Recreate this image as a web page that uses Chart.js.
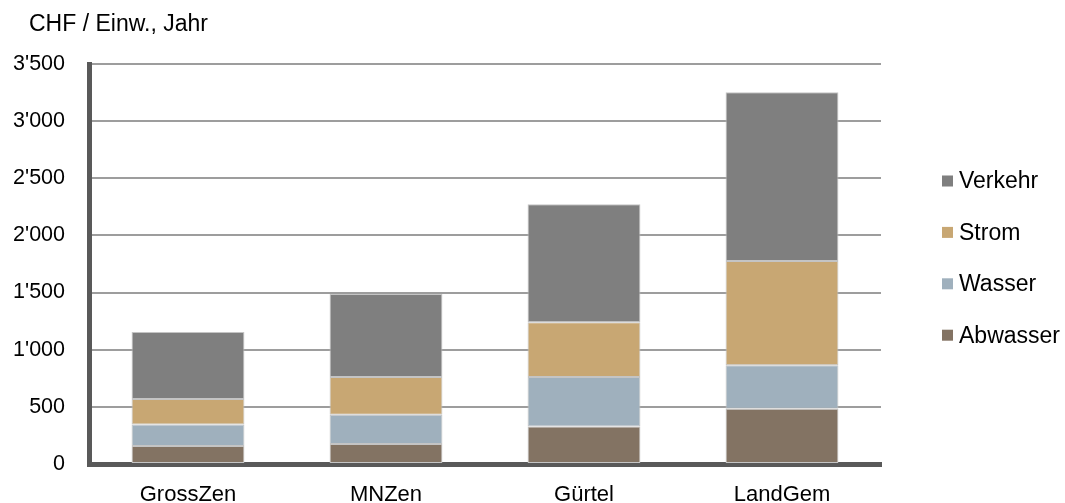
<!DOCTYPE html>
<html>
<head>
<meta charset="utf-8">
<script src="https://cdn.jsdelivr.net/npm/chart.js@4/dist/chart.umd.min.js"></script>
<style>
  html, body { margin: 0; padding: 0; background: #fff; }
  #container { display: block; }
</style>
</head>
<body>
<canvas id="container" width="1065" height="503"></canvas>
<script>
// data
var categories = ["GrossZen", "MNZen", "Gürtel", "LandGem"];
var abwasser = [157, 175, 328, 484];
var wasser = [189, 256, 433, 379];
var strom = [223, 330, 479, 913];
var verkehr = [585, 726, 1033, 1476];
var yTicks = [0, 500, 1000, 1500, 2000, 2500, 3000, 3500];
var yTitle = "CHF / Einw., Jahr";

var fontName = "'Liberation Sans', Arial, sans-serif";

function fmt(v) {
  var s = String(v);
  if (s.length > 3) s = s.slice(0, s.length - 3) + "'" + s.slice(s.length - 3);
  return s;
}

// title top left + legend on the right (reversed, like the original)
var extras = {
  id: 'extras',
  afterDraw: function(chart) {
    var ctx = chart.ctx;
    ctx.save();
    ctx.fillStyle = '#000';
    ctx.font = "23px " + fontName;
    ctx.textBaseline = 'middle';
    ctx.textAlign = 'left';
    ctx.fillText(yTitle, 29, 25);

    ctx.font = "23px " + fontName;
    var ds = chart.data.datasets;
    var y = 181;
    for (var i = ds.length - 1; i >= 0; i--) {
      ctx.fillStyle = ds[i].backgroundColor;
      ctx.fillRect(942, y - 5.5, 11, 11);
      ctx.fillStyle = '#000';
      ctx.fillText(ds[i].label, 959, y + 1);
      y += 51.4;
    }
    ctx.restore();
  }
};

var ctx = document.getElementById('container');
var chart = new Chart(ctx, {
  type: 'bar',
  data: {
    labels: categories,
    datasets: [
      { label: 'Abwasser', data: abwasser, backgroundColor: '#837363' },
      { label: 'Wasser', data: wasser, backgroundColor: '#9fb0bd' },
      { label: 'Strom', data: strom, backgroundColor: '#c8a773' },
      { label: 'Verkehr', data: verkehr, backgroundColor: '#7f7f7f' }
    ].map(function(d) {
      d.borderColor = '#c4c4c4';
      d.borderWidth = 1;
      d.borderSkipped = false;
      d.categoryPercentage = 1;
      d.barPercentage = 0.57;
      return d;
    })
  },
  options: {
    responsive: false,
    maintainAspectRatio: false,
    animation: false,
    devicePixelRatio: 1,
    layout: { padding: { left: 0, right: 184, top: 64, bottom: 0 } },
    plugins: {
      legend: { display: false },
      tooltip: { enabled: false }
    },
    scales: {
      x: {
        stacked: true,
        afterFit: function(axis) { axis.height = 39; },
        grid: { display: false, drawTicks: false },
        border: { display: true, color: '#595959', width: 5 },
        ticks: { color: '#000', font: { family: fontName, size: 22 }, padding: 18 }
      },
      y: {
        stacked: true,
        min: 0,
        max: 3500,
        afterBuildTicks: function(axis) {
          axis.ticks = yTicks.map(function(v) { return { value: v }; });
        },
        afterFit: function(axis) { axis.width = 89; },
        grid: { color: '#9d9d9d', lineWidth: 2, drawTicks: false },
        border: { display: true, color: '#595959', width: 5 },
        ticks: {
          color: '#000',
          font: { family: fontName, size: 21.5 },
          padding: 24,
          callback: function(v) { return fmt(v); }
        }
      }
    }
  },
  plugins: [extras]
});
</script>
</body>
</html>
